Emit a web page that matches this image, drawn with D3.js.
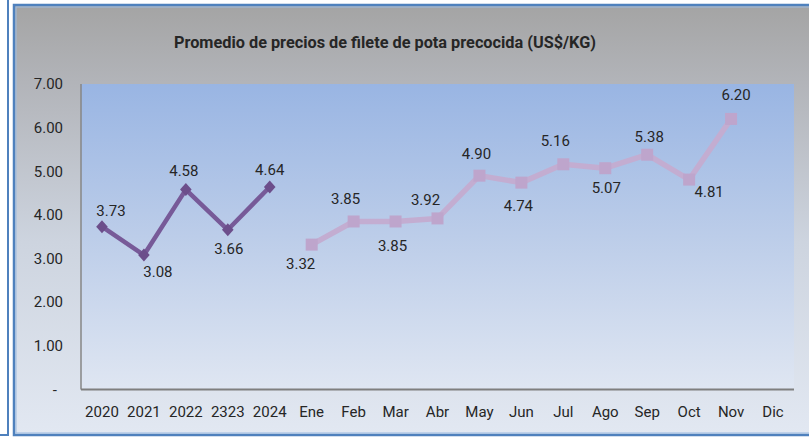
<!DOCTYPE html>
<html>
<head>
<meta charset="utf-8">
<script src="https://cdn.jsdelivr.net/npm/d3@7"></script>
<style>
  html, body { margin: 0; padding: 0; background: #fff; }
  svg { display: block; }
  text { font-family: Roboto, "Open Sans", sans-serif; fill: #262626; }
</style>
</head>
<body>
<div id="chart"></div>
<script>
// ---- data ----
var categories = ["2020", "2021", "2022", "2323", "2024",
  "Ene", "Feb", "Mar", "Abr", "May", "Jun", "Jul", "Ago", "Sep", "Oct", "Nov", "Dic"];
var yearCats = ["2020", "2021", "2022", "2323", "2024"];
var yearValues = [3.73, 3.08, 4.58, 3.66, 4.64];
var monthCats = ["Ene", "Feb", "Mar", "Abr", "May", "Jun", "Jul", "Ago", "Sep", "Oct", "Nov", "Dic"];
var monthValues = [3.32, 3.85, 3.85, 3.92, 4.90, 4.74, 5.16, 5.07, 5.38, 4.81, 6.20, null];
var yTicks = [0, 1, 2, 3, 4, 5, 6, 7];
var title = "Promedio de precios de filete de pota precocida (US$/KG)";

// label offsets (px from marker centre) as Excel placed them
var yearLabelOff = [[9, -16], [14, 17], [-2, -19], [1, 19], [0, -17]];
var monthLabelOff = [[-11, 19], [-8, -23], [-3, 24], [-12, -19], [-3, -22], [-3, 23],
  [-8, -24], [1, 20], [2, -18], [20, 12], [5, -24], [0, 0]];

// ---- frame ----
var W = 809, H = 439;
var plot = { left: 81, right: 794, top: 84, bottom: 389.5 };

var svg = d3.select("#chart").append("svg").attr("width", W).attr("height", H);
var defs = svg.append("defs");

var gChart = defs.append("linearGradient").attr("id", "chartBg")
  .attr("x1", 0).attr("y1", 0).attr("x2", 0).attr("y2", 1);
gChart.append("stop").attr("offset", "0%").attr("stop-color", "#a4a4a4");
gChart.append("stop").attr("offset", "18%").attr("stop-color", "#b2b4b9");
gChart.append("stop").attr("offset", "55%").attr("stop-color", "#cdd4df");
gChart.append("stop").attr("offset", "100%").attr("stop-color", "#e2e8f2");

var gPlot = defs.append("linearGradient").attr("id", "plotBg")
  .attr("x1", 0).attr("y1", 0).attr("x2", 0).attr("y2", 1);
gPlot.append("stop").attr("offset", "0%").attr("stop-color", "#99b5e3");
gPlot.append("stop").attr("offset", "50%").attr("stop-color", "#bccde9");
gPlot.append("stop").attr("offset", "100%").attr("stop-color", "#dfe6f2");

// left neighbouring box edge
svg.append("path").attr("d", "M0,435 H8 V0")
  .attr("fill", "none").attr("stroke", "#4f81bd").attr("stroke-width", 2);

// chart box
svg.append("rect").attr("x", 14).attr("y", 5).attr("width", W).attr("height", 430)
  .attr("fill", "url(#chartBg)").attr("stroke", "#4f81bd").attr("stroke-width", 2.5);
svg.append("rect").attr("x", 16).attr("y", 7).attr("width", W).attr("height", 426)
  .attr("fill", "none").attr("stroke", "#9dbbe0").attr("stroke-width", 1);

// plot area
svg.append("rect").attr("x", plot.left).attr("y", plot.top)
  .attr("width", plot.right - plot.left).attr("height", plot.bottom - plot.top)
  .attr("fill", "url(#plotBg)");

// ---- scales ----
var x = d3.scaleBand().domain(categories).range([plot.left, plot.right]).padding(0);
var cx = function (c) { return x(c) + x.bandwidth() / 2; };
var y = d3.scaleLinear().domain([0, 7]).range([plot.bottom, plot.top]);

// ---- axes ----
svg.append("line").attr("x1", plot.left).attr("x2", plot.left)
  .attr("y1", plot.top).attr("y2", plot.bottom)
  .attr("stroke", "#868686").attr("stroke-width", 1.5);
svg.append("line").attr("x1", plot.left).attr("x2", plot.right)
  .attr("y1", plot.bottom).attr("y2", plot.bottom)
  .attr("stroke", "#7f7f7f").attr("stroke-width", 2);

svg.append("g").selectAll("text").data(yTicks).enter().append("text")
  .attr("x", function (d) { return d === 0 ? 57 : 63; })
  .attr("y", function (d) { return y(d); })
  .attr("dy", "0.35em")
  .attr("text-anchor", "end")
  .attr("font-size", 15)
  .text(function (d) { return d === 0 ? "-" : d.toFixed(2); });

svg.append("g").selectAll("text").data(categories).enter().append("text")
  .attr("x", cx)
  .attr("y", 417)
  .attr("text-anchor", "middle")
  .attr("font-size", 15)
  .text(function (d) { return d; });

// ---- title ----
svg.append("text").attr("x", 385).attr("y", 48)
  .attr("text-anchor", "middle")
  .attr("font-size", 16.3).attr("font-weight", "bold")
  .text(title);

// ---- series ----
function series(cats, vals, lineColor, lineW, markColor, shape, offs) {
  var pts = cats.map(function (c, i) { return { c: c, v: vals[i], off: offs[i] }; });
  var line = d3.line()
    .defined(function (p) { return p.v != null; })
    .x(function (p) { return cx(p.c); })
    .y(function (p) { return y(p.v); });
  svg.append("path").datum(pts)
    .attr("fill", "none").attr("stroke", lineColor).attr("stroke-width", lineW)
    .attr("stroke-linejoin", "round")
    .attr("d", line);
  var ok = pts.filter(function (p) { return p.v != null; });
  var g = svg.append("g");
  g.selectAll("path").data(ok).enter().append("path")
    .attr("transform", function (p) { return "translate(" + cx(p.c) + "," + y(p.v) + ")"; })
    .attr("d", shape === "diamond" ? "M0,-6.5L5.8,0L0,6.5L-5.8,0Z" : "M-6,-6H6V6H-6Z")
    .attr("fill", markColor);
  svg.append("g").selectAll("text").data(ok).enter().append("text")
    .attr("x", function (p) { return cx(p.c) + p.off[0]; })
    .attr("y", function (p) { return y(p.v) + p.off[1]; })
    .attr("dy", "0.35em")
    .attr("text-anchor", "middle")
    .attr("font-size", 15)
    .text(function (p) { return p.v.toFixed(2); });
}

series(monthCats, monthValues, "#c3add1", 5.5, "#bea5cc", "square", monthLabelOff);
series(yearCats, yearValues, "#775a98", 4.5, "#6c4e8b", "diamond", yearLabelOff);
</script>
</body>
</html>
